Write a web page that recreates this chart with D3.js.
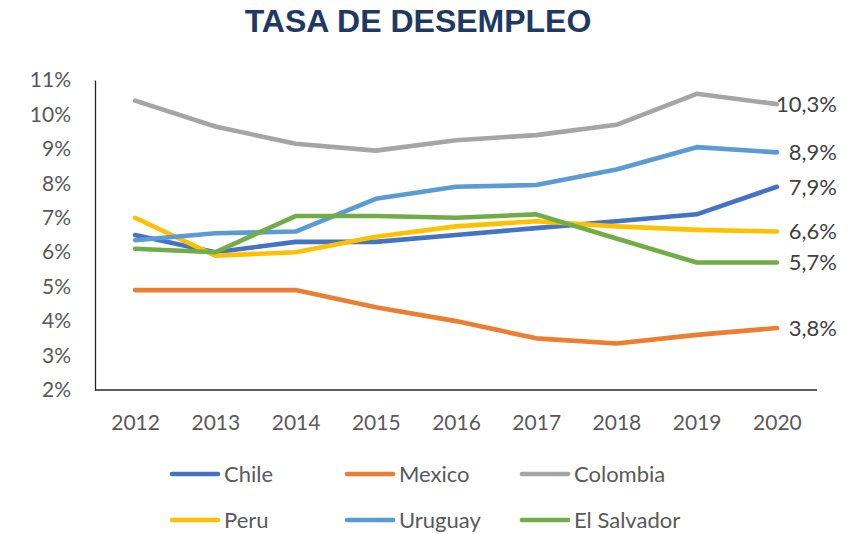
<!DOCTYPE html>
<html>
<head>
<meta charset="utf-8">
<script src="https://cdn.jsdelivr.net/npm/d3@7"></script>
<style>
  body { margin: 0; background: #fff; }
  text { font-family: Lato, "Open Sans", sans-serif; }
</style>
</head>
<body>
<div id="chart"></div>
<script>
// Data
var years = ["2012", "2013", "2014", "2015", "2016", "2017", "2018", "2019", "2020"];
var countries = ["Chile", "Mexico", "Colombia", "Peru", "Uruguay", "El Salvador"];
var chile = [6.5, 6.0, 6.3, 6.3, 6.5, 6.7, 6.9, 7.1, 7.9];
var mexico = [4.9, 4.9, 4.9, 4.4, 4.0, 3.5, 3.35, 3.6, 3.8];
var colombia = [10.4, 9.65, 9.15, 8.95, 9.25, 9.4, 9.7, 10.6, 10.3];
var peru = [7.0, 5.9, 6.0, 6.45, 6.75, 6.9, 6.75, 6.65, 6.6];
var uruguay = [6.35, 6.55, 6.6, 7.55, 7.9, 7.95, 8.4, 9.05, 8.9];
var elSalvador = [6.1, 6.0, 7.05, 7.05, 7.0, 7.1, 6.4, 5.7, 5.7];
var yTicks = [2, 3, 4, 5, 6, 7, 8, 9, 10, 11];

var colors = ["#4472C4", "#ED7D31", "#A5A5A5", "#FFC000", "#5B9BD5", "#70AD47"];
var allSeries = [chile, mexico, colombia, peru, uruguay, elSalvador];

// SVG size
var svgWidth = 864;
var svgHeight = 534;

// plot area
var plot = { left: 95, right: 817, top: 80, bottom: 390 };

var svg = d3.select("#chart")
  .append("svg")
  .attr("width", svgWidth)
  .attr("height", svgHeight);

// Title
svg.append("text")
  .attr("x", 418)
  .attr("y", 32)
  .attr("text-anchor", "middle")
  .style("font-family", "'Liberation Sans', Arial, sans-serif")
  .style("font-weight", "bold")
  .style("font-size", "32px")
  .style("fill", "#1F3864")
  .text("TASA DE DESEMPLEO");

// Scales
var xScale = d3.scalePoint()
  .domain(years)
  .range([plot.left, plot.right])
  .padding(0.5);

var yScale = d3.scaleLinear()
  .domain([2, 11])
  .range([plot.bottom, plot.top]);

// Axes
var leftAxis = d3.axisLeft(yScale)
  .tickValues(yTicks)
  .tickSize(0)
  .tickPadding(24)
  .tickFormat(d => d + "%");

var bottomAxis = d3.axisBottom(xScale)
  .tickSize(0)
  .tickPadding(25);

var yAxisG = svg.append("g")
  .attr("transform", `translate(${plot.left}, 0)`)
  .call(leftAxis);

var xAxisG = svg.append("g")
  .attr("transform", `translate(0, ${plot.bottom})`)
  .call(bottomAxis);

[yAxisG, xAxisG].forEach(function(g) {
  g.select(".domain").attr("stroke", "#262626").attr("stroke-width", 1.3);
  g.selectAll("text")
    .style("font-family", "Lato, sans-serif")
    .style("font-size", "21px")
    .style("fill", "#595959");
});
// full width x axis line
xAxisG.select(".domain").attr("d", `M${plot.left},0H${plot.right}`);

// Lines
var line = d3.line()
  .x((d, i) => xScale(years[i]))
  .y(d => yScale(d));

svg.selectAll(".series")
  .data(allSeries)
  .enter()
  .append("path")
  .attr("class", "series")
  .attr("d", d => line(d))
  .attr("fill", "none")
  .attr("stroke", (d, i) => colors[i])
  .attr("stroke-width", 4.6)
  .attr("stroke-linejoin", "round")
  .attr("stroke-linecap", "round");

// End labels (right aligned)
svg.selectAll(".endLabel")
  .data(allSeries)
  .enter()
  .append("text")
  .attr("class", "endLabel")
  .attr("x", 837)
  .attr("y", d => yScale(d[d.length - 1]))
  .attr("dy", "0.36em")
  .attr("text-anchor", "end")
  .style("font-size", "22px")
  .style("fill", "#404040")
  .text(d => d[d.length - 1].toFixed(1).replace(".", ",") + "%");

// Legend
var legend = svg.selectAll(".legendItem")
  .data(countries)
  .enter()
  .append("g")
  .attr("class", "legendItem")
  .attr("transform", (d, i) => `translate(${172 + (i % 3) * 175}, ${474 + Math.floor(i / 3) * 46})`);

legend.append("line")
  .attr("x1", 0)
  .attr("x2", 46)
  .attr("stroke", (d, i) => colors[i])
  .attr("stroke-width", 4.6)
  .attr("stroke-linecap", "round");

legend.append("text")
  .attr("x", 52)
  .attr("dy", "0.36em")
  .style("font-size", "22px")
  .style("fill", "#595959")
  .text(d => d);
</script>
</body>
</html>
